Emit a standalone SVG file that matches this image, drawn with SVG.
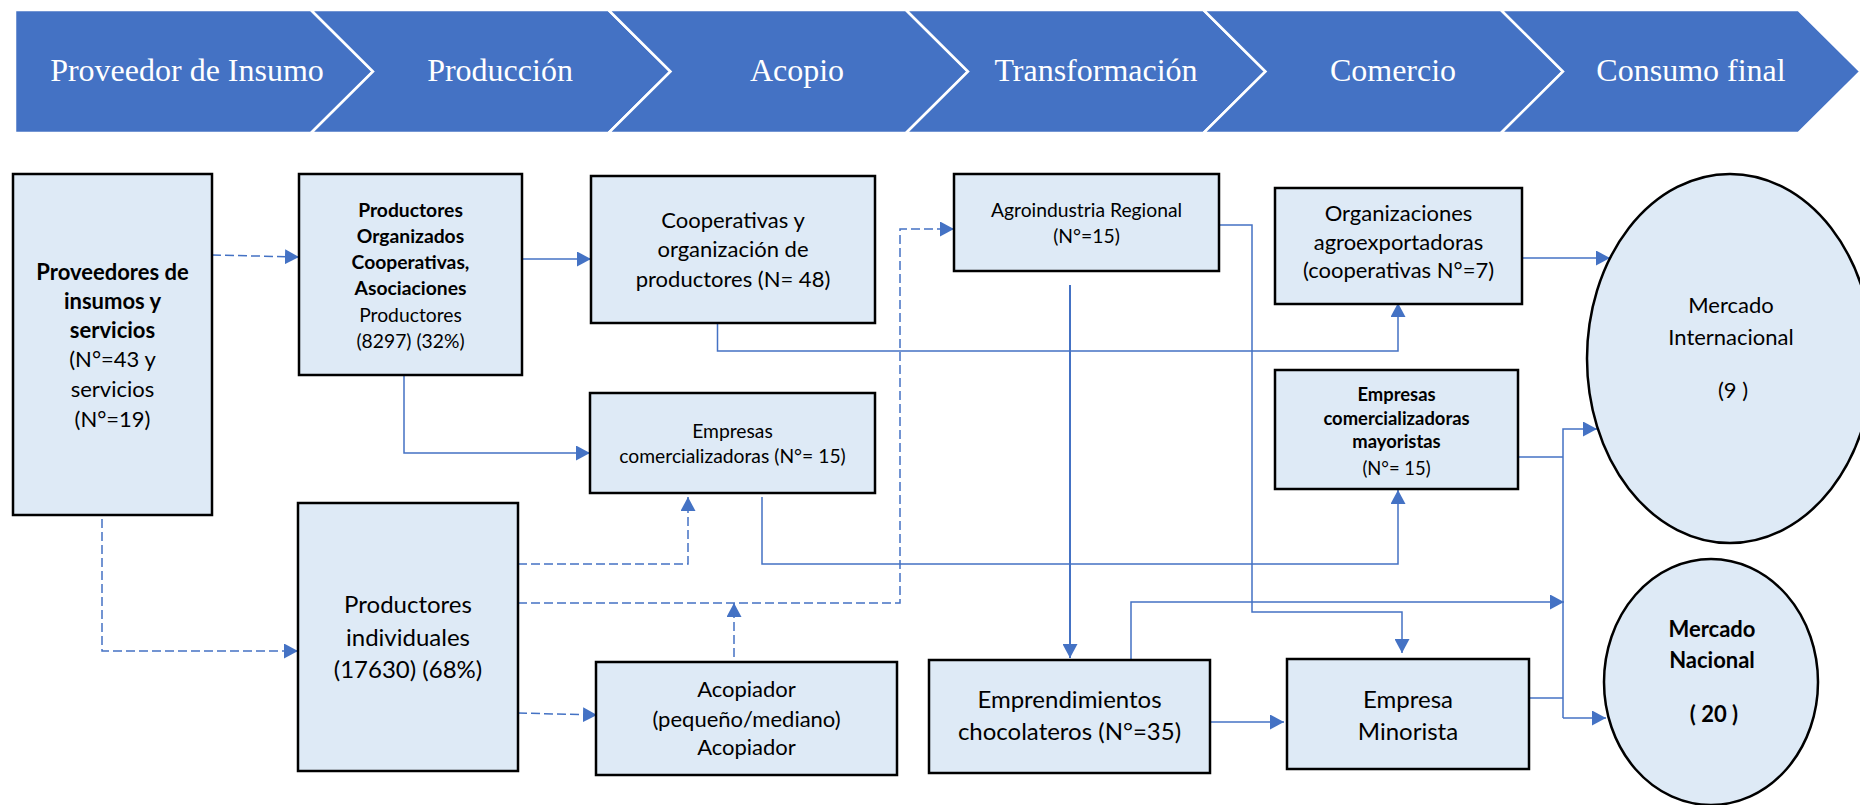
<svg xmlns="http://www.w3.org/2000/svg" width="1860" height="805" viewBox="0 0 1860 805">
<defs>
<style>
.chev{fill:#4472C4;stroke:#FFFFFF;stroke-width:2.5;stroke-linejoin:miter}
.ct{font-family:"Liberation Serif","Times New Roman",serif;font-size:32px;fill:#FFFFFF;text-anchor:middle}
.box{fill:#DEEAF6;stroke:#000000;stroke-width:2.5}
.t{font-family:Lato,"Liberation Sans",sans-serif;fill:#000000;text-anchor:middle}
.b{font-weight:bold}
.s24{font-size:22px}
.s21{font-size:19.3px}
.s26{font-size:24px}
.s20{font-size:18.4px}
.ln{fill:none;stroke:#4472C4;stroke-width:1.5}
.dash{stroke-dasharray:9 4}
</style>
<marker id="arr" viewBox="0 0 14 15" refX="14" refY="7.5" markerWidth="14" markerHeight="15" markerUnits="userSpaceOnUse" orient="auto">
<path d="M0,0 L14,7.5 L0,15 z" fill="#4472C4"/>
</marker>
</defs>
<rect width="1860" height="805" fill="#FFFFFF"/>

<g id="stages">
<polygon class="chev" points="15,10 311,10 373,71.5 311,133 15,133"/>
<polygon class="chev" points="311,10 608.5,10 670.5,71.5 608.5,133 311,133 373,71.5"/>
<polygon class="chev" points="608.5,10 906,10 968,71.5 906,133 608.5,133 670.5,71.5"/>
<polygon class="chev" points="906,10 1203.5,10 1265.5,71.5 1203.5,133 906,133 968,71.5"/>
<polygon class="chev" points="1203.5,10 1501,10 1563,71.5 1501,133 1203.5,133 1265.5,71.5"/>
<polygon class="chev" points="1501,10 1798.5,10 1860.5,71.5 1798.5,133 1501,133 1563,71.5"/>
<text class="ct" x="187" y="81">Proveedor de Insumo</text>
<text class="ct" x="500" y="81">Producción</text>
<text class="ct" x="797" y="81">Acopio</text>
<text class="ct" x="1096" y="81">Transformación</text>
<text class="ct" x="1393" y="81">Comercio</text>
<text class="ct" x="1691" y="81">Consumo final</text>
</g>

<g id="connectors">
<path class="ln dash" d="M212,255 L299,257" marker-end="url(#arr)"/>
<path class="ln" d="M522,259 L591,259" marker-end="url(#arr)"/>
<path class="ln" d="M404,375 L404,453 L590,453" marker-end="url(#arr)"/>
<path class="ln dash" d="M102,519 L102,651 L298,651" marker-end="url(#arr)"/>
<path class="ln dash" d="M518,564 L688,564 L688,497" marker-end="url(#arr)"/>
<path class="ln dash" d="M518,603 L900,603 L900,229 L954,229" marker-end="url(#arr)"/>
<path class="ln dash" d="M734,657 L734,603" marker-end="url(#arr)"/>
<path class="ln dash" d="M518,713 L597,715" marker-end="url(#arr)"/>
<path class="ln" d="M717.5,323 L717.5,351 L1398,351 L1398,303" marker-end="url(#arr)"/>
<path class="ln" d="M762,497 L762,564 L1398,564 L1398,490" marker-end="url(#arr)"/>
<path class="ln" style="stroke-width:2" d="M1070,285 L1070,658" marker-end="url(#arr)"/>
<path class="ln" d="M1220,225 L1252,225 L1252,612 L1402,612 L1402,653" marker-end="url(#arr)"/>
<path class="ln" d="M1131,659 L1131,602 L1564,602" marker-end="url(#arr)"/>
<path class="ln" d="M1210,722 L1284,722" marker-end="url(#arr)"/>
<path class="ln" d="M1518,258 L1610,258" marker-end="url(#arr)"/>
<path class="ln" d="M1518,457 L1563,457"/>
<path class="ln" d="M1563,718 L1563,429 L1597,429" marker-end="url(#arr)"/>
<path class="ln" d="M1563,718 L1606,718" marker-end="url(#arr)"/>
<path class="ln" d="M1526,698 L1563,698"/>
</g>

<g id="proveedores">
<rect class="box" x="13" y="174" width="199" height="341"/>
<text class="t b s24" x="112.5" y="280">Proveedores de</text>
<text class="t b s24" x="112.5" y="309">insumos y</text>
<text class="t b s24" x="112.5" y="338">servicios</text>
<text class="t s24" x="112.5" y="367">(N°=43 y</text>
<text class="t s24" x="112.5" y="397">servicios</text>
<text class="t s24" x="112.5" y="427">(N°=19)</text>
</g>

<g id="productores-organizados">
<rect class="box" x="299" y="174" width="223" height="201"/>
<text class="t b s21" x="410.5" y="217">Productores</text>
<text class="t b s21" x="410.5" y="243">Organizados</text>
<text class="t b s21" x="410.5" y="269">Cooperativas,</text>
<text class="t b s21" x="410.5" y="295">Asociaciones</text>
<text class="t s21" x="410.5" y="322">Productores</text>
<text class="t s21" x="410.5" y="348">(8297) (32%)</text>
</g>

<g id="productores-individuales">
<rect class="box" x="298" y="503" width="220" height="268"/>
<text class="t s26" x="408" y="613">Productores</text>
<text class="t s26" x="408" y="646">individuales</text>
<text class="t s26" x="408" y="678">(17630) (68%)</text>
</g>

<g id="cooperativas">
<rect class="box" x="591" y="176" width="284" height="147"/>
<text class="t s24" x="733" y="228">Cooperativas y</text>
<text class="t s24" x="733" y="257">organización de</text>
<text class="t s24" x="733" y="287">productores (N= 48)</text>
</g>

<g id="empresas-comercializadoras">
<rect class="box" x="590" y="393" width="285" height="100"/>
<text class="t s21" x="732.5" y="438">Empresas</text>
<text class="t s21" x="732.5" y="463">comercializadoras (N°= 15)</text>
</g>

<g id="acopiador">
<rect class="box" x="596" y="662" width="301" height="113"/>
<text class="t s24" x="746.5" y="697">Acopiador</text>
<text class="t s24" x="746.5" y="727">(pequeño/mediano)</text>
<text class="t s24" x="746.5" y="755">Acopiador</text>
</g>

<g id="agroindustria">
<rect class="box" x="954" y="174" width="265" height="97"/>
<text class="t s21" x="1086.5" y="217">Agroindustria Regional</text>
<text class="t s21" x="1086.5" y="243">(N°=15)</text>
</g>

<g id="emprendimientos">
<rect class="box" x="929" y="660" width="281" height="113"/>
<text class="t s26" x="1069.5" y="708">Emprendimientos</text>
<text class="t s26" x="1069.5" y="740">chocolateros (N°=35)</text>
</g>

<g id="empresa-minorista">
<rect class="box" x="1287" y="659" width="242" height="110"/>
<text class="t s26" x="1408" y="708">Empresa</text>
<text class="t s26" x="1408" y="740">Minorista</text>
</g>

<g id="organizaciones">
<rect class="box" x="1275" y="188" width="247" height="116"/>
<text class="t s24" x="1398.5" y="221">Organizaciones</text>
<text class="t s24" x="1398.5" y="250">agroexportadoras</text>
<text class="t s24" x="1398.5" y="278">(cooperativas N°=7)</text>
</g>

<g id="mayoristas">
<rect class="box" x="1275" y="370" width="243" height="119"/>
<text class="t b s20" x="1396.5" y="401">Empresas</text>
<text class="t b s20" x="1396.5" y="425">comercializadoras</text>
<text class="t b s20" x="1396.5" y="448">mayoristas</text>
<text class="t s20" x="1396.5" y="475">(N°= 15)</text>
</g>

<g id="mercado-internacional">
<ellipse class="box" cx="1730" cy="358.5" rx="143" ry="184.5"/>
<text class="t s24" x="1731" y="313">Mercado</text>
<text class="t s24" x="1731" y="345">Internacional</text>
<text class="t s24" x="1733" y="398">(9 )</text>
</g>

<g id="mercado-nacional">
<ellipse class="box" cx="1711" cy="682" rx="107" ry="123"/>
<text class="t b s24" x="1712" y="637">Mercado</text>
<text class="t b s24" x="1712" y="668">Nacional</text>
<text class="t b s24" x="1714" y="722">( 20 )</text>
</g>
</svg>
